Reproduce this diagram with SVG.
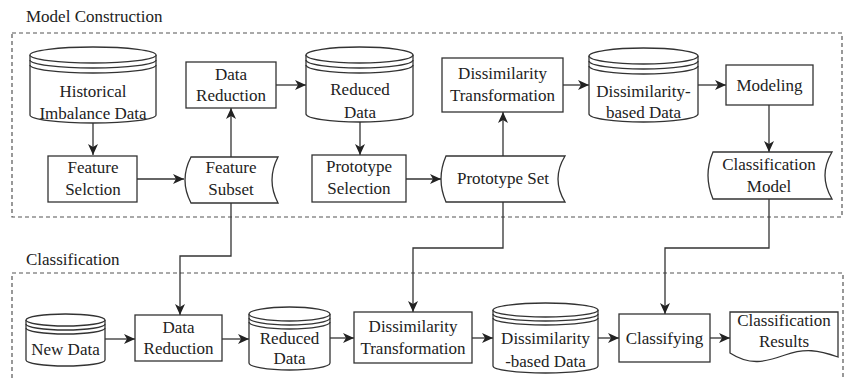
<svg xmlns="http://www.w3.org/2000/svg" width="845" height="380" viewBox="0 0 845 380" font-family="Liberation Serif, DejaVu Serif, Times New Roman, serif" font-size="17">
<defs>
<marker id="ah" markerUnits="userSpaceOnUse" markerWidth="12" markerHeight="10" refX="11" refY="5" orient="auto">
<path d="M0,0 L11,5 L0,10 L3,5 Z" fill="#222"/>
</marker>
<style>
.s{fill:#fff;stroke:#333;stroke-width:1.3}
.l{fill:none;stroke:#333;stroke-width:1.3}
.c{fill:none;stroke:#333;stroke-width:1.3;marker-end:url(#ah)}
.d{fill:none;stroke:#555;stroke-width:1.2;stroke-dasharray:4,3}
.t{fill:#222;text-anchor:middle}
.h{fill:#222;text-anchor:start}
</style>
</defs>
<rect width="845" height="380" fill="#fff"/>
<g id="frames">
<rect class="d" x="12" y="33" width="830" height="184"/>
<path class="d" d="M12,385 V273 H843 V385"/>
<text class="h" x="26" y="22" font-family="Liberation Serif, serif">Model Construction</text>
<text class="h" x="26" y="265" font-family="Liberation Serif, serif">Classification</text>
</g>
<g id="connectors">
<path class="c" d="M93,123 V155"/>
<path class="c" d="M137,179 H184"/>
<path class="c" d="M231,157 V108"/>
<path class="c" d="M276,85 H306"/>
<path class="c" d="M360,122 V155"/>
<path class="c" d="M406,179 H441"/>
<path class="c" d="M503,156 V112"/>
<path class="c" d="M563,85 H589"/>
<path class="c" d="M698,85 H726"/>
<path class="c" d="M769,105 V152"/>
<path class="c" d="M231,203 V256 H180 V315"/>
<path class="c" d="M503,202 V248 H413 V312"/>
<path class="c" d="M769,199 V248 H665 V314"/>
<path class="c" d="M105,339 H135"/>
<path class="c" d="M222,339 H249"/>
<path class="c" d="M330,338 H354"/>
<path class="c" d="M472,338 H493"/>
<path class="c" d="M598,338 H619"/>
<path class="c" d="M710,338 H730"/>
</g>
<g id="historical">
<path class="s" d="M30,55 V115 A63,8 0 0 0 156,115 V55"/>
<ellipse class="s" cx="93" cy="55" rx="63" ry="8"/>
<path class="l" d="M30,60 A63,8 0 0 0 156,60 M30,65 A63,8 0 0 0 156,65"/>
<text class="t" x="93" y="97">Historical</text>
<text class="t" x="93" y="119">Imbalance Data</text>
</g>
<g id="feature-selection">
<rect class="s" x="48" y="156" width="89" height="46"/>
<text class="t" x="93" y="173">Feature</text>
<text class="t" x="93" y="195">Selction</text>
</g>
<g id="feature-subset">
<path class="s" d="M191,157 H278 Q266,180 278,203 H191 Q179,180 191,157 Z"/>
<text class="t" x="231" y="173">Feature</text>
<text class="t" x="231" y="195">Subset</text>
</g>
<g id="data-reduction-1">
<rect class="s" x="186" y="62" width="90" height="46"/>
<text class="t" x="231" y="80">Data</text>
<text class="t" x="231" y="101">Reduction</text>
</g>
<g id="reduced-data-1">
<path class="s" d="M306,55 V114 A53.5,8 0 0 0 413,114 V55"/>
<ellipse class="s" cx="359.5" cy="55" rx="53.5" ry="8"/>
<path class="l" d="M306,60 A53.5,8 0 0 0 413,60 M306,65 A53.5,8 0 0 0 413,65"/>
<text class="t" x="360" y="95">Reduced</text>
<text class="t" x="360" y="118">Data</text>
</g>
<g id="prototype-selection">
<rect class="s" x="312" y="155" width="94" height="47"/>
<text class="t" x="359" y="172">Prototype</text>
<text class="t" x="359" y="194">Selection</text>
</g>
<g id="prototype-set">
<path class="s" d="M446,156 H565 Q551,179 565,202 H446 Q436,179 446,156 Z"/>
<text class="t" x="503" y="184">Prototype Set</text>
</g>
<g id="dissimilarity-transformation-1">
<rect class="s" x="442" y="58" width="121" height="54"/>
<text class="t" x="502.5" y="79">Dissimilarity</text>
<text class="t" x="502.5" y="101">Transformation</text>
</g>
<g id="dissimilarity-data-1">
<path class="s" d="M589,56 V114 A54.5,8 0 0 0 698,114 V56"/>
<ellipse class="s" cx="643.5" cy="56" rx="54.5" ry="8"/>
<path class="l" d="M589,61 A54.5,8 0 0 0 698,61 M589,66 A54.5,8 0 0 0 698,66"/>
<text class="t" x="643.5" y="97">Dissimilarity-</text>
<text class="t" x="643.5" y="118">based Data</text>
</g>
<g id="modeling">
<rect class="s" x="726" y="65" width="87" height="40"/>
<text class="t" x="769.5" y="91">Modeling</text>
</g>
<g id="classification-model">
<path class="s" d="M713,152 H832 Q818,175.5 832,199 H713 Q703,175.5 713,152 Z"/>
<text class="t" x="769" y="170">Classification</text>
<text class="t" x="769" y="192">Model</text>
</g>
<g id="new-data">
<path class="s" d="M26,320 V360 A39.5,6 0 0 0 105,360 V320"/>
<ellipse class="s" cx="65.5" cy="320" rx="39.5" ry="6"/>
<path class="l" d="M26,324 A39.5,6 0 0 0 105,324 M26,328 A39.5,6 0 0 0 105,328"/>
<text class="t" x="65.5" y="355">New Data</text>
</g>
<g id="data-reduction-2">
<rect class="s" x="135" y="315" width="87" height="46"/>
<text class="t" x="178.5" y="333">Data</text>
<text class="t" x="178.5" y="354">Reduction</text>
</g>
<g id="reduced-data-2">
<path class="s" d="M249,314 V363 A40.5,7 0 0 0 330,363 V314"/>
<ellipse class="s" cx="289.5" cy="314" rx="40.5" ry="7"/>
<path class="l" d="M249,318 A40.5,7 0 0 0 330,318 M249,322 A40.5,7 0 0 0 330,322"/>
<text class="t" x="289.5" y="344">Reduced</text>
<text class="t" x="289.5" y="364">Data</text>
</g>
<g id="dissimilarity-transformation-2">
<rect class="s" x="354" y="312" width="118" height="51"/>
<text class="t" x="413" y="332">Dissimilarity</text>
<text class="t" x="413" y="354">Transformation</text>
</g>
<g id="dissimilarity-data-2">
<path class="s" d="M493,310 V366 A52.5,7 0 0 0 598,366 V310"/>
<ellipse class="s" cx="545.5" cy="310" rx="52.5" ry="7"/>
<path class="l" d="M493,314 A52.5,7 0 0 0 598,314 M493,318 A52.5,7 0 0 0 598,318"/>
<text class="t" x="545.5" y="344">Dissimilarity</text>
<text class="t" x="545.5" y="367">-based Data</text>
</g>
<g id="classifying">
<rect class="s" x="619" y="314" width="91" height="48"/>
<text class="t" x="664.5" y="344">Classifying</text>
</g>
<g id="classification-results">
<path class="s" d="M730,312 H838 V357 C818,350 805,348 785,355 C765,362 750,366 730,353 Z"/>
<text class="t" x="784" y="326">Classification</text>
<text class="t" x="784" y="347">Results</text>
</g>
</svg>
